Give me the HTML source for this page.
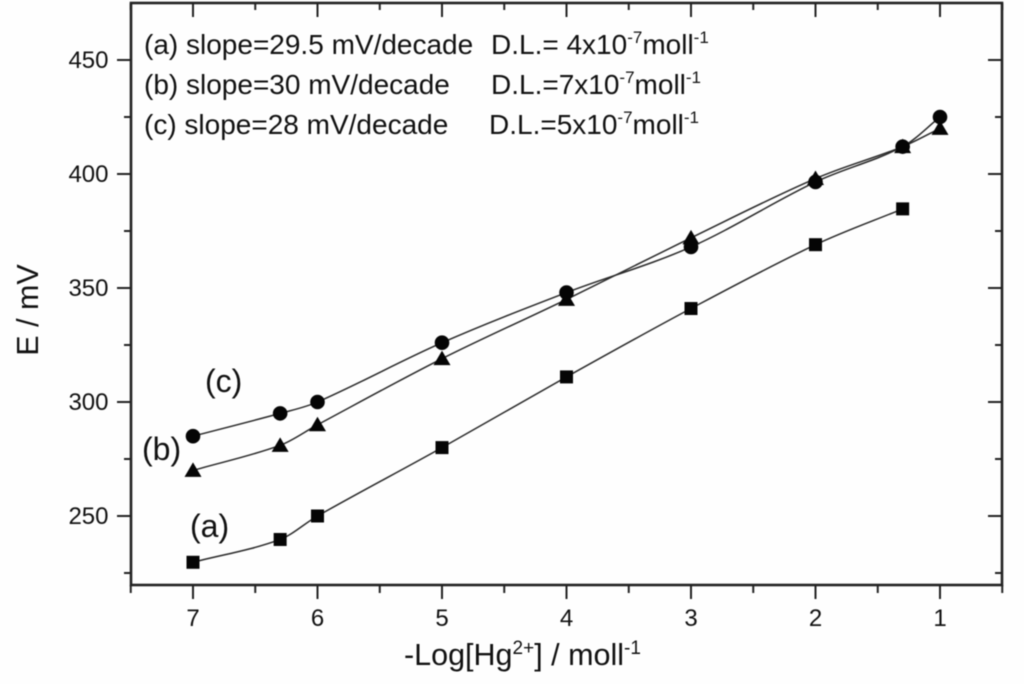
<!DOCTYPE html>
<html lang="en">
<head>
<meta charset="utf-8">
<title>E vs -Log[Hg2+]</title>
<style>
html,body{margin:0;padding:0;background:#fff;}
body{width:1024px;height:684px;overflow:hidden;}
svg{display:block;filter:blur(0.5px);}
text{font-family:"Liberation Sans",sans-serif;fill:#111;}
</style>
</head>
<body>
<svg id="chart" xmlns="http://www.w3.org/2000/svg" width="1024" height="684" viewBox="0 0 1024 684">
<rect x="0" y="0" width="1024" height="684" fill="#fefefe"/>
<g id="grid-ticks"></g>
<rect x="131" y="3" width="871" height="582" fill="none" stroke="#222" stroke-width="2.6"/>
<g id="tick-labels"></g>
<g id="series"></g>

<text x="38" y="310" font-size="30.5" text-anchor="middle" transform="rotate(-90 38 310)">E / mV</text>
<text x="404" y="665" font-size="30.5">-Log[Hg<tspan dy="-11" font-size="19">2+</tspan><tspan dy="11">] / moll</tspan><tspan dy="-11" font-size="19">-1</tspan></text>

<g font-size="28">
<text x="144" y="54">(a) slope=29.5 mV/decade</text>
<text x="491" y="54">D.L.= 4x10<tspan dy="-11" font-size="17">-7</tspan><tspan dy="11">moll</tspan><tspan dy="-11" font-size="17">-1</tspan></text>
<text x="144" y="94">(b) slope=30 mV/decade</text>
<text x="491" y="94">D.L.=7x10<tspan dy="-11" font-size="17">-7</tspan><tspan dy="11">moll</tspan><tspan dy="-11" font-size="17">-1</tspan></text>
<text x="144" y="134">(c) slope=28 mV/decade</text>
<text x="489" y="134">D.L.=5x10<tspan dy="-11" font-size="17">-7</tspan><tspan dy="11">moll</tspan><tspan dy="-11" font-size="17">-1</tspan></text>
</g>

<text x="205" y="392" font-size="32">(c)</text>
<text x="142" y="460" font-size="32">(b)</text>
<text x="190" y="537" font-size="32">(a)</text>
</svg>
<script>
var xValuesA = [7, 6.3, 6, 5, 4, 3, 2, 1.3];
var seriesA = [229.7, 239.7, 250, 280, 311, 341, 369, 384.7];
var xValuesB = [7, 6.3, 6, 5, 4, 3, 2, 1.3, 1];
var seriesB = [270, 281, 290, 319, 345, 372, 398, 412, 420];
var xValuesC = [7, 6.3, 6, 5, 4, 3, 2, 1.3, 1];
var seriesC = [285, 295, 300, 326, 348, 368, 396.5, 412, 425];
var xTickLabels = [7, 6, 5, 4, 3, 2, 1];
var yTickLabels = [250, 300, 350, 400, 450];
var xMinorTicks = [7.5, 6.5, 5.5, 4.5, 3.5, 2.5, 1.5, 0.5];
var yMinorTicks = [225, 275, 325, 375, 425];

var NS = 'http://www.w3.org/2000/svg';
function sx(v) { return 193 + (7 - v) * 124.5; }
function sy(v) { return 516 - (v - 250) * 2.28; }
function make(tag, attrs, parent) {
  var el = document.createElementNS(NS, tag);
  for (var k in attrs) { el.setAttribute(k, attrs[k]); }
  parent.appendChild(el);
  return el;
}
var tickLayer = document.getElementById('grid-ticks');
var labelLayer = document.getElementById('tick-labels');
var seriesLayer = document.getElementById('series');

function tick(x1, y1, x2, y2, name) {
  var t = make('line', {x1: x1, y1: y1, x2: x2, y2: y2, stroke: '#222', 'stroke-width': 2}, tickLayer);
  
  
}
xTickLabels.forEach(function (v) {
  tick(sx(v), 585, sx(v), 599, 'x-major-tick');
  tick(sx(v), 3, sx(v), 17, 'x-top-major-tick');
  var t = make('text', {x: sx(v), y: 626, 'font-size': 24, 'text-anchor': 'middle'}, labelLayer);
  t.textContent = v;
  
  
});
xMinorTicks.forEach(function (v) {
  tick(sx(v), 585, sx(v), 593, 'x-minor-tick');
  tick(sx(v), 3, sx(v), 10, 'x-top-minor-tick');
});
yTickLabels.forEach(function (v) {
  tick(117, sy(v), 131, sy(v), 'y-major-tick');
  tick(988, sy(v), 1002, sy(v), 'y-right-major-tick');
  var t = make('text', {x: 108.5, y: sy(v) + 8, 'font-size': 24, 'text-anchor': 'end'}, labelLayer);
  t.textContent = v;
  
  
});
yMinorTicks.forEach(function (v) {
  tick(124, sy(v), 131, sy(v), 'y-minor-tick');
  tick(995, sy(v), 1002, sy(v), 'y-right-minor-tick');
});

function slopeAt(pts, i) {
  var a = pts[Math.max(i - 1, 0)], b = pts[Math.min(i + 1, pts.length - 1)];
  return (b[1] - a[1]) / (b[0] - a[0]);
}
function smoothPath(pts) {
  var d = 'M' + pts[0][0] + ' ' + pts[0][1];
  for (var i = 0; i < pts.length - 1; i++) {
    var p1 = pts[i], p2 = pts[i + 1], h = (p2[0] - p1[0]) / 3;
    d += ' C' + (p1[0] + h) + ' ' + (p1[1] + slopeAt(pts, i) * h) + ' ' +
         (p2[0] - h) + ' ' + (p2[1] - slopeAt(pts, i + 1) * h) + ' ' + p2[0] + ' ' + p2[1];
  }
  return d;
}
function drawSeries(xs, ys, shape, name) {
  var pts = xs.map(function (x, i) { return [sx(x), sy(ys[i])]; });
  var line = make('path', {d: smoothPath(pts), fill: 'none', stroke: '#2a2a2a', 'stroke-width': 1.5}, seriesLayer);
  
  
  pts.forEach(function (p) {
    var m;
    if (shape === 'square') {
      m = make('rect', {x: p[0] - 6.5, y: p[1] - 6.5, width: 13, height: 13, fill: '#050505'}, seriesLayer);
    } else if (shape === 'circle') {
      m = make('circle', {cx: p[0], cy: p[1], r: 7.3, fill: '#050505'}, seriesLayer);
    } else {
      m = make('polygon', {points: (p[0] - 8.5) + ',' + (p[1] + 6.5) + ' ' + (p[0] + 8.5) + ',' + (p[1] + 6.5) + ' ' + p[0] + ',' + (p[1] - 8), fill: '#050505'}, seriesLayer);
    }
    
    
  });
}
drawSeries(xValuesA, seriesA, 'square', 'series-a');
drawSeries(xValuesB, seriesB, 'triangle', 'series-b');
drawSeries(xValuesC, seriesC, 'circle', 'series-c');
</script>
</body>
</html>
